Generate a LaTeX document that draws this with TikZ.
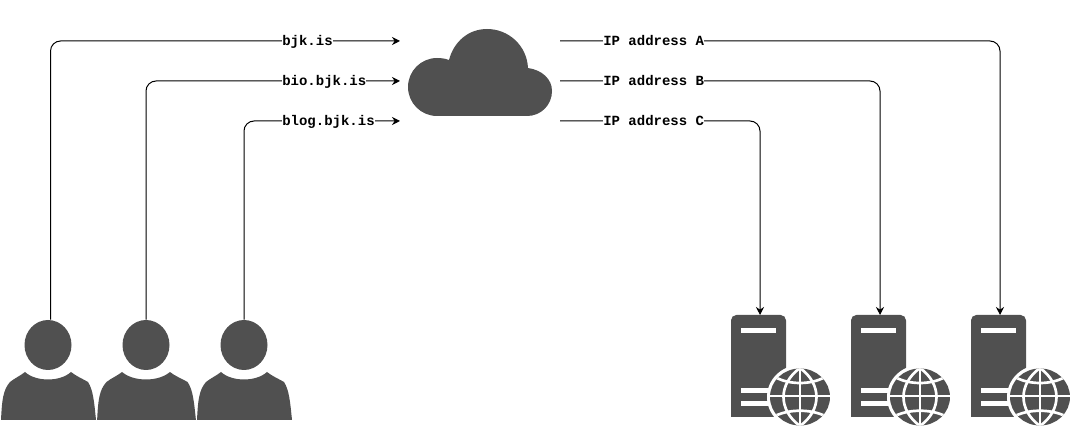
\documentclass[tikz,border=0pt]{standalone}
\usepackage{fontspec}
\newfontfamily\labelfont{Liberation Mono}
\usetikzlibrary{arrows.meta,shapes.geometric}
\definecolor{icongray}{HTML}{505050}
\tikzset{
  link/.style={draw=black,line width=0.75pt,rounded corners=7.5pt,-{Stealth[length=6pt,width=6pt]}},
  linklabel/.style={anchor=west,fill=white,inner xsep=0pt,inner ysep=0pt,text height=9pt,text depth=1.5pt,font=\labelfont\bfseries\fontsize{10.5}{12}\selectfont},
  userhead/.style={ellipse,fill=icongray,inner sep=0pt,minimum width=35.25pt,minimum height=37.5pt},
  serverbody/.style={fill=icongray,rounded corners=4pt},
  globeline/.style={draw=white,line width=2pt},
  user/.pic={
    \node [userhead] (-head) at (0,0) {};
    \fill [icongray] (-47,75) .. controls (-46,55) and (-45,45) .. (-38,37) .. controls (-33,33) and (-28,31) .. (-23,27) .. controls (-12,37) and (12,37) .. (23,27) .. controls (28,31) and (33,33) .. (40,37) .. controls (45,45) and (46,55) .. (48,75) -- cycle;
  },
  server/.pic={
    \path [serverbody] (0,102) [sharp corners] -- (0,50) [rounded corners=4pt] -- (0,0) -- (55,0) [sharp corners] -- (55,102) -- cycle;
    \fill [white] (10,13) rectangle (45,18);
    \fill [white] (10,73) rectangle (45,78);
    \fill [white] (10,86) rectangle (45,91);
    \fill [white] (69,82) circle [x radius=33,y radius=32];
    \begin{scope}
      \clip (69,82) circle [x radius=30,y radius=28.5];
      \fill [icongray] (39,52) rectangle (99,112);
      \draw [globeline] (69,52) -- (69,112);
      \draw [globeline] (39,81) -- (99,81);
      \draw [globeline] (69,53) .. controls (47,69) and (47,95) .. (69,111);
      \draw [globeline] (69,53) .. controls (91,69) and (91,95) .. (69,111);
      \draw [globeline] (44,62) .. controls (58,70) and (80,70) .. (94,62);
      \draw [globeline] (44,101) .. controls (58,94) and (80,94) .. (94,101);
    \end{scope}
  }
}
\begin{document}
\begin{tikzpicture}[x=0.75pt,y=0.75pt,yscale=-1,xscale=1]
\useasboundingbox (0,0) rectangle (1072,427);

%Users
\pic [yscale=-1] (userA) at (48,345) {user};
\pic [yscale=-1,xscale=1.04] (userB) at (146,345) {user};
\pic [yscale=-1] (userC) at (244,345) {user};

%Cloud
\fill [icongray] (437,116) -- (527,116) .. controls (541,116) and (552,105) .. (552,91) .. controls (552,79) and (542,70) .. (528,68) .. controls (527,46) and (509,29) .. (487,29) .. controls (469,29) and (454,41) .. (449,60) .. controls (445,58.5) and (441,58) .. (437,58) .. controls (421,58) and (408,71) .. (408,87) .. controls (408,103) and (421,116) .. (437,116) -- cycle;
\coordinate (cloudinA) at (400,41);
\coordinate (cloudinB) at (400,81);
\coordinate (cloudinC) at (400,121);
\coordinate (cloudoutA) at (560,41);
\coordinate (cloudoutB) at (560,81);
\coordinate (cloudoutC) at (560,121);

%Servers
\pic [yscale=-1] (serverC) at (731,315) {server};
\pic [yscale=-1] (serverB) at (851,315) {server};
\pic [yscale=-1] (serverA) at (971,315) {server};
\coordinate (serverCtop) at (760,315);
\coordinate (serverBtop) at (880,315);
\coordinate (serverAtop) at (1000,315);

%Connectors
\draw [link] ([xshift=1.9pt]userA-head.north) |- (cloudinA);
\draw [link] (userB-head.north) |- (cloudinB);
\draw [link] (userC-head.north) |- (cloudinC);
\draw [link] (cloudoutA) -| (serverAtop);
\draw [link] (cloudoutB) -| (serverBtop);
\draw [link] (cloudoutC) -| (serverCtop);

% Text Node
\node [linklabel] (labelA) at (282,41) {bjk.is};
\node [linklabel] (labelB) at (282,81) {bio.bjk.is};
\node [linklabel] (labelC) at (282,121) {blog.bjk.is};
\node [linklabel] (labelD) at (603,41) {IP address A};
\node [linklabel] (labelE) at (603,81) {IP address B};
\node [linklabel] (labelF) at (603,121) {IP address C};

\end{tikzpicture}
\end{document}
